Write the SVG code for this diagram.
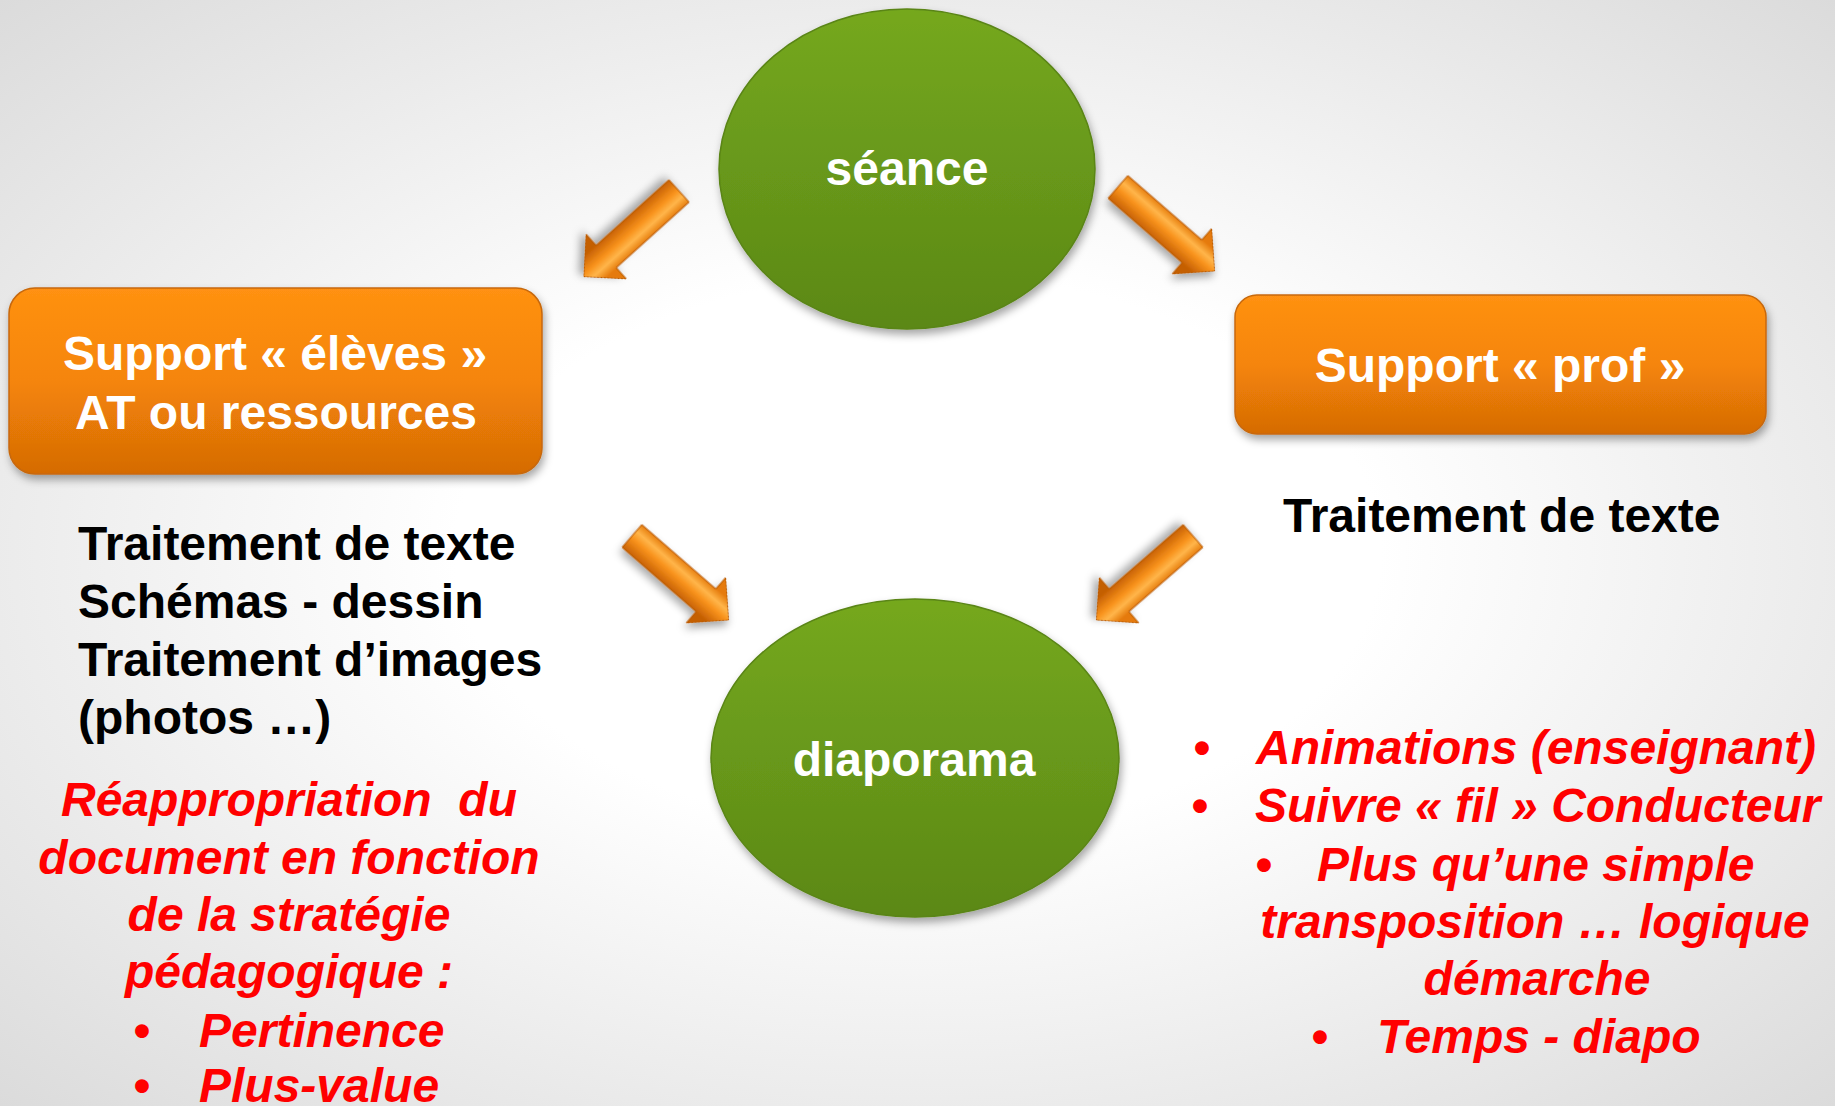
<svg xmlns="http://www.w3.org/2000/svg" xmlns:xlink="http://www.w3.org/1999/xlink" width="1835" height="1106" viewBox="0 0 1835 1106">
<defs>
<radialGradient id="bg" cx="50%" cy="50%" r="72%">
<stop offset="0.35" stop-color="#ffffff"/>
<stop offset="1" stop-color="#dadada"/>
</radialGradient>
<linearGradient id="org" x1="0" y1="0" x2="0" y2="1">
<stop offset="0" stop-color="#ff9112"/>
<stop offset="0.5" stop-color="#f58508"/>
<stop offset="1" stop-color="#d56b05"/>
</linearGradient>
<linearGradient id="grn" x1="0" y1="0" x2="0" y2="1">
<stop offset="0" stop-color="#75a81e"/>
<stop offset="1" stop-color="#5b8816"/>
</linearGradient>
<linearGradient id="arrg" gradientUnits="userSpaceOnUse" x1="0" y1="-16" x2="0" y2="16">
<stop offset="0" stop-color="#e57a0a"/>
<stop offset="0.3" stop-color="#ffb54a"/>
<stop offset="0.55" stop-color="#f8921c"/>
<stop offset="1" stop-color="#c45e02"/>
</linearGradient>
<filter id="sh" x="-20%" y="-20%" width="140%" height="150%">
<feDropShadow dx="2" dy="5" stdDeviation="4" flood-color="#000" flood-opacity="0.35"/>
</filter>
<path id="arr" d="M0,-15 L98,-15 L98,-30 L128,0 L98,30 L98,15 L0,15 Z"/>
</defs>
<style>
.w{font-family:"Liberation Sans",Arial,sans-serif;font-weight:bold;font-size:48px;fill:#ffffff;text-anchor:middle}
.k{font-family:"Liberation Sans",Arial,sans-serif;font-weight:bold;font-size:48px;fill:#000000}
.r{font-family:"Liberation Sans",Arial,sans-serif;font-weight:bold;font-style:italic;font-size:48px;fill:#ff0000}
.rc{text-anchor:middle}
.box{fill:url(#org);stroke:#c7680a;stroke-width:1.5;filter:url(#sh)}
.ell{fill:url(#grn);stroke:#5a8517;stroke-width:1.5;filter:url(#sh)}
.ar{fill:url(#arrg);stroke:#b85800;stroke-width:1;filter:url(#sh)}
</style>
<rect x="0" y="0" width="1835" height="1106" fill="url(#bg)"/>

<g id="connectors">
<use xlink:href="#arr" href="#arr" class="ar" transform="translate(679,191) rotate(138)"/>
<use xlink:href="#arr" href="#arr" class="ar" transform="translate(1118,187) rotate(41)"/>
<use xlink:href="#arr" href="#arr" class="ar" transform="translate(632,536) rotate(41)"/>
<use xlink:href="#arr" href="#arr" class="ar" transform="translate(1193,536) rotate(139)"/>
</g>

<g id="seance">
<ellipse class="ell" cx="907" cy="169" rx="188" ry="160"/>
<text class="w" x="907" y="185">séance</text>
</g>

<g id="diaporama">
<ellipse class="ell" cx="915" cy="758" rx="204" ry="159"/>
<text class="w" x="914" y="776">diaporama</text>
</g>

<g id="support-eleves">
<rect class="box" x="9" y="288" width="533" height="186" rx="26" ry="26"/>
<text class="w" x="275" y="370">Support « élèves »</text>
<text class="w" x="276" y="429">AT ou ressources</text>
</g>

<g id="support-prof">
<rect class="box" x="1235" y="295" width="531" height="139" rx="22" ry="22"/>
<text class="w" x="1500" y="382">Support « prof »</text>
</g>

<g id="left-tools">
<text class="k" x="78" y="560">Traitement de texte</text>
<text class="k" x="78" y="618">Schémas - dessin</text>
<text class="k" x="78" y="676">Traitement d’images</text>
<text class="k" x="78" y="734">(photos …)</text>
</g>

<g id="left-notes">
<text class="r rc" x="289" y="816" xml:space="preserve">Réappropriation  du</text>
<text class="r rc" x="289" y="874">document en fonction</text>
<text class="r rc" x="289" y="931">de la stratégie</text>
<text class="r rc" x="289" y="988">pédagogique :</text>
<text class="r" x="133" y="1047">•</text>
<text class="r" x="199" y="1047">Pertinence</text>
<text class="r" x="133" y="1102">•</text>
<text class="r" x="199" y="1102">Plus-value</text>
</g>

<g id="right-tools">
<text class="k" x="1283" y="532">Traitement de texte</text>
</g>

<g id="right-notes">
<text class="r" x="1193" y="764">•</text>
<text class="r" x="1256" y="764">Animations (enseignant)</text>
<text class="r" x="1191" y="822">•</text>
<text class="r" x="1255" y="822">Suivre « fil » Conducteur</text>
<text class="r" x="1255" y="881">•</text>
<text class="r" x="1317" y="881">Plus qu’une simple</text>
<text class="r rc" x="1535" y="938">transposition … logique</text>
<text class="r rc" x="1537" y="995">démarche</text>
<text class="r" x="1311" y="1053">•</text>
<text class="r" x="1377" y="1053">Temps - diapo</text>
</g>
</svg>
